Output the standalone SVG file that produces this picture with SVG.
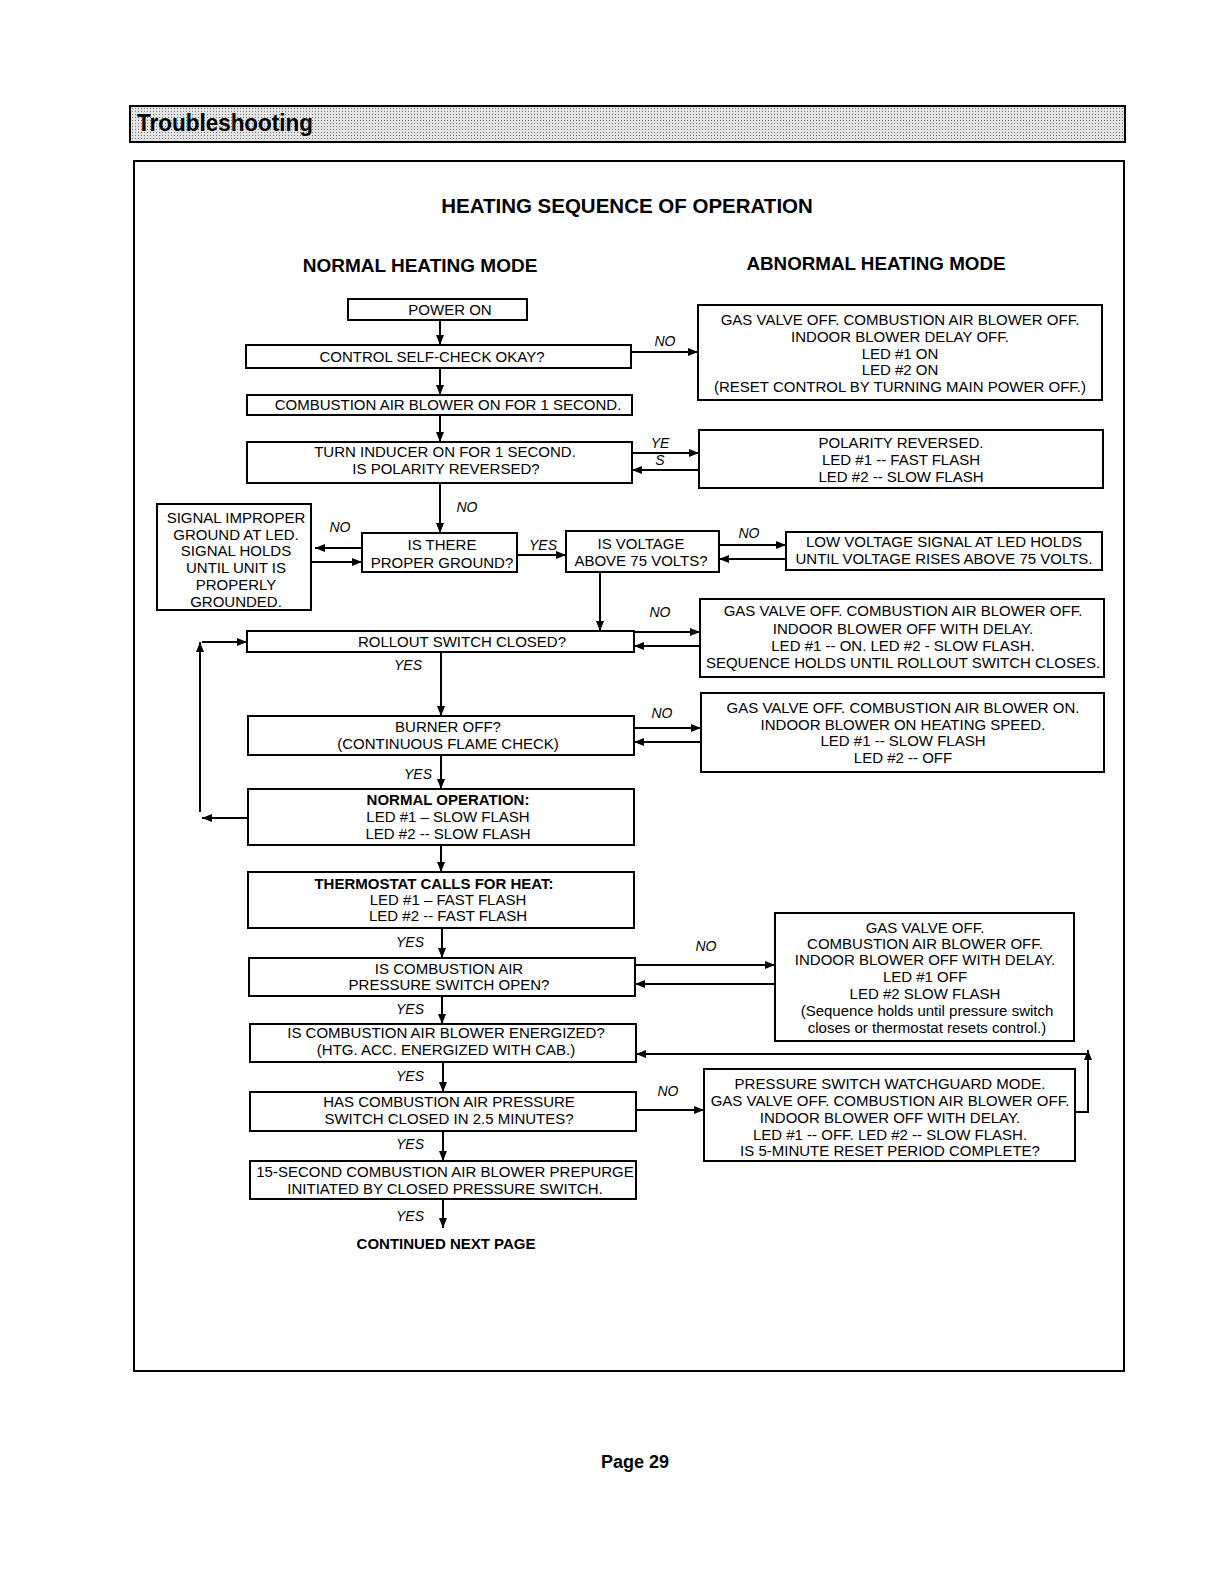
<svg xmlns="http://www.w3.org/2000/svg" width="1210" height="1572" viewBox="0 0 1210 1572">
<style>
.box{fill:#fff;stroke:#000;stroke-width:2}
.t{font-family:"Liberation Sans",Arial,sans-serif;font-size:15px;fill:#000;text-anchor:middle}
.b{font-weight:bold}
.lbl{font-family:"Liberation Sans",Arial,sans-serif;font-size:14px;font-style:italic;fill:#000;text-anchor:middle}
.ln{fill:none;stroke:#000;stroke-width:2}
.h{font-family:"Liberation Sans",Arial,sans-serif;font-weight:bold;fill:#000;text-anchor:middle}
</style>
<defs>
<marker id="ah" viewBox="0 0 10 8" refX="10" refY="4" markerWidth="11" markerHeight="8" markerUnits="userSpaceOnUse" orient="auto">
<path d="M0,0 L10,4 L0,8 z" fill="#000"/>
</marker>
<pattern id="dots" width="3" height="3" patternUnits="userSpaceOnUse">
<rect width="3" height="3" fill="#e4e4e4"/>
<rect width="1" height="1" fill="#777"/>
</pattern>
</defs>
<rect width="1210" height="1572" fill="#fff"/>

<g id="header">
<rect x="130" y="106" width="995" height="36" fill="url(#dots)" stroke="#000" stroke-width="2"/>
<text class="h" x="137" y="131" font-size="24" textLength="176" lengthAdjust="spacingAndGlyphs" style="text-anchor:start" fill="#111">Troubleshooting</text>
</g>

<rect id="frame" x="134" y="161" width="990" height="1210" fill="none" stroke="#000" stroke-width="2"/>

<g id="titles">
<text class="h" x="627" y="213" font-size="20.5">HEATING SEQUENCE OF OPERATION</text>
<text class="h" x="420" y="272" font-size="19">NORMAL HEATING MODE</text>
<text class="h" x="876" y="270" font-size="18.8">ABNORMAL HEATING MODE</text>
</g>

<g id="connectors">
<line class="ln" x1="440" y1="320" x2="440" y2="345" marker-end="url(#ah)"/>
<line class="ln" x1="440" y1="368" x2="440" y2="395" marker-end="url(#ah)"/>
<line class="ln" x1="440" y1="415" x2="440" y2="442" marker-end="url(#ah)"/>
<line class="ln" x1="631" y1="352" x2="698" y2="352" marker-end="url(#ah)"/>
<line class="ln" x1="632" y1="453" x2="699" y2="453" marker-end="url(#ah)"/>
<line class="ln" x1="699" y1="470" x2="632" y2="470" marker-end="url(#ah)"/>
<line class="ln" x1="440" y1="483" x2="440" y2="533" marker-end="url(#ah)"/>
<line class="ln" x1="362" y1="548" x2="315" y2="548" marker-end="url(#ah)"/>
<line class="ln" x1="311" y1="562" x2="362" y2="562" marker-end="url(#ah)"/>
<line class="ln" x1="517" y1="555" x2="566" y2="555" marker-end="url(#ah)"/>
<line class="ln" x1="719" y1="545" x2="786" y2="545" marker-end="url(#ah)"/>
<line class="ln" x1="786" y1="559" x2="719" y2="559" marker-end="url(#ah)"/>
<line class="ln" x1="600" y1="572" x2="600" y2="631" marker-end="url(#ah)"/>
<line class="ln" x1="634" y1="632" x2="700" y2="632" marker-end="url(#ah)"/>
<line class="ln" x1="700" y1="646" x2="634" y2="646" marker-end="url(#ah)"/>
<line class="ln" x1="441" y1="652" x2="441" y2="716" marker-end="url(#ah)"/>
<line class="ln" x1="634" y1="728" x2="701" y2="728" marker-end="url(#ah)"/>
<line class="ln" x1="701" y1="742" x2="634" y2="742" marker-end="url(#ah)"/>
<line class="ln" x1="441" y1="755" x2="441" y2="789" marker-end="url(#ah)"/>
<line class="ln" x1="248" y1="818" x2="202" y2="818" marker-end="url(#ah)"/>
<line class="ln" x1="200" y1="812" x2="200" y2="642" marker-end="url(#ah)"/>
<line class="ln" x1="202" y1="642" x2="247" y2="642" marker-end="url(#ah)"/>
<line class="ln" x1="441" y1="845" x2="441" y2="872" marker-end="url(#ah)"/>
<line class="ln" x1="442" y1="928" x2="442" y2="958" marker-end="url(#ah)"/>
<line class="ln" x1="635" y1="965" x2="775" y2="965" marker-end="url(#ah)"/>
<line class="ln" x1="775" y1="984" x2="635" y2="984" marker-end="url(#ah)"/>
<line class="ln" x1="442" y1="996" x2="442" y2="1024" marker-end="url(#ah)"/>
<line class="ln" x1="443" y1="1062" x2="443" y2="1092" marker-end="url(#ah)"/>
<line class="ln" x1="636" y1="1110" x2="704" y2="1110" marker-end="url(#ah)"/>
<polyline class="ln" points="1075,1112 1088,1112 1088,1050" marker-end="url(#ah)"/>
<line class="ln" x1="1088" y1="1054" x2="636" y2="1054" marker-end="url(#ah)"/>
<line class="ln" x1="443" y1="1131" x2="443" y2="1161" marker-end="url(#ah)"/>
<line class="ln" x1="443" y1="1199" x2="443" y2="1228" marker-end="url(#ah)"/>
</g>

<g id="labels">
<text class="lbl" x="665" y="346">NO</text>
<text class="lbl" x="660" y="448">YE</text>
<text class="lbl" x="660" y="465">S</text>
<text class="lbl" x="467" y="512">NO</text>
<text class="lbl" x="340" y="532">NO</text>
<text class="lbl" x="543" y="550">YES</text>
<text class="lbl" x="749" y="538">NO</text>
<text class="lbl" x="660" y="617">NO</text>
<text class="lbl" x="408" y="670">YES</text>
<text class="lbl" x="662" y="718">NO</text>
<text class="lbl" x="418" y="779">YES</text>
<text class="lbl" x="410" y="947">YES</text>
<text class="lbl" x="706" y="951">NO</text>
<text class="lbl" x="410" y="1014">YES</text>
<text class="lbl" x="410" y="1081">YES</text>
<text class="lbl" x="668" y="1096">NO</text>
<text class="lbl" x="410" y="1149">YES</text>
<text class="lbl" x="410" y="1221">YES</text>
</g>

<g id="n-power-on"><rect class="box" x="348" y="299" width="179" height="21"/><text class="t" x="450" y="315">POWER ON</text></g>
<g id="n-self-check"><rect class="box" x="246" y="345" width="385" height="23"/><text class="t" x="432" y="362">CONTROL SELF-CHECK OKAY?</text></g>
<g id="n-blower-1s"><rect class="box" x="247" y="395" width="385" height="20"/><text class="t" x="448" y="410">COMBUSTION AIR BLOWER ON FOR 1 SECOND.</text></g>
<g id="n-polarity-q"><rect class="box" x="247" y="442" width="385" height="41"/><text class="t" x="445" y="457">TURN INDUCER ON FOR 1 SECOND.</text><text class="t" x="446" y="474">IS POLARITY REVERSED?</text></g>
<g id="n-abn-selfcheck"><rect class="box" x="698" y="305" width="404" height="95"/>
<text class="t" x="900" y="325">GAS VALVE OFF. COMBUSTION AIR BLOWER OFF.</text>
<text class="t" x="900" y="342">INDOOR BLOWER DELAY OFF.</text>
<text class="t" x="900" y="359">LED #1 ON</text>
<text class="t" x="900" y="375">LED #2 ON</text>
<text class="t" x="900" y="392">(RESET CONTROL BY TURNING MAIN POWER OFF.)</text></g>
<g id="n-abn-polarity"><rect class="box" x="699" y="430" width="404" height="58"/>
<text class="t" x="901" y="448">POLARITY REVERSED.</text>
<text class="t" x="901" y="465">LED #1 -- FAST FLASH</text>
<text class="t" x="901" y="482">LED #2 -- SLOW FLASH</text></g>
<g id="n-abn-ground"><rect class="box" x="157" y="504" width="154" height="106"/>
<text class="t" x="236" y="523">SIGNAL IMPROPER</text>
<text class="t" x="236" y="540">GROUND AT LED.</text>
<text class="t" x="236" y="556">SIGNAL HOLDS</text>
<text class="t" x="236" y="573">UNTIL UNIT IS</text>
<text class="t" x="236" y="590">PROPERLY</text>
<text class="t" x="236" y="607">GROUNDED.</text></g>
<g id="n-ground-q"><rect class="box" x="362" y="533" width="155" height="39"/>
<text class="t" x="442" y="550">IS THERE</text>
<text class="t" x="442" y="568">PROPER GROUND?</text></g>
<g id="n-voltage-q"><rect class="box" x="566" y="531" width="153" height="41"/>
<text class="t" x="641" y="549">IS VOLTAGE</text>
<text class="t" x="641" y="566">ABOVE 75 VOLTS?</text></g>
<g id="n-abn-voltage"><rect class="box" x="786" y="532" width="316" height="38"/>
<text class="t" x="944" y="547">LOW VOLTAGE SIGNAL AT LED HOLDS</text>
<text class="t" x="944" y="564">UNTIL VOLTAGE RISES ABOVE 75 VOLTS.</text></g>
<g id="n-abn-rollout"><rect class="box" x="700" y="599" width="404" height="78"/>
<text class="t" x="903" y="616">GAS VALVE OFF. COMBUSTION AIR BLOWER OFF.</text>
<text class="t" x="903" y="634">INDOOR BLOWER OFF WITH DELAY.</text>
<text class="t" x="903" y="651">LED #1 -- ON. LED #2 - SLOW FLASH.</text>
<text class="t" x="903" y="668">SEQUENCE HOLDS UNTIL ROLLOUT SWITCH CLOSES.</text></g>
<g id="n-rollout-q"><rect class="box" x="247" y="631" width="387" height="21"/>
<text class="t" x="462" y="647">ROLLOUT SWITCH CLOSED?</text></g>
<g id="n-burner-q"><rect class="box" x="248" y="716" width="386" height="39"/>
<text class="t" x="448" y="732">BURNER OFF?</text>
<text class="t" x="448" y="749">(CONTINUOUS FLAME CHECK)</text></g>
<g id="n-abn-burner"><rect class="box" x="701" y="693" width="403" height="79"/>
<text class="t" x="903" y="713">GAS VALVE OFF. COMBUSTION AIR BLOWER ON.</text>
<text class="t" x="903" y="730">INDOOR BLOWER ON HEATING SPEED.</text>
<text class="t" x="903" y="746">LED #1 -- SLOW FLASH</text>
<text class="t" x="903" y="763">LED #2 -- OFF</text></g>
<g id="n-normal-op"><rect class="box" x="248" y="789" width="386" height="56"/>
<text class="t b" x="448" y="805">NORMAL OPERATION:</text>
<text class="t" x="448" y="822">LED #1 – SLOW FLASH</text>
<text class="t" x="448" y="839">LED #2 -- SLOW FLASH</text></g>
<g id="n-thermostat"><rect class="box" x="248" y="872" width="386" height="56"/>
<text class="t b" x="434" y="889">THERMOSTAT CALLS FOR HEAT:</text>
<text class="t" x="448" y="905">LED #1 – FAST FLASH</text>
<text class="t" x="448" y="921">LED #2 -- FAST FLASH</text></g>
<g id="n-pressure-open-q"><rect class="box" x="249" y="958" width="386" height="38"/>
<text class="t" x="449" y="974">IS COMBUSTION AIR</text>
<text class="t" x="449" y="990">PRESSURE SWITCH OPEN?</text></g>
<g id="n-abn-pressure"><rect class="box" x="775" y="913" width="299" height="128"/>
<text class="t" x="925" y="933">GAS VALVE OFF.</text>
<text class="t" x="925" y="949">COMBUSTION AIR BLOWER OFF.</text>
<text class="t" x="925" y="965">INDOOR BLOWER OFF WITH DELAY.</text>
<text class="t" x="925" y="982">LED #1 OFF</text>
<text class="t" x="925" y="999">LED #2 SLOW FLASH</text>
<text class="t" x="927" y="1016" font-size="14">(Sequence holds until pressure switch</text>
<text class="t" x="927" y="1033" font-size="14">closes or thermostat resets control.)</text></g>
<g id="n-blower-energized-q"><rect class="box" x="250" y="1024" width="386" height="38"/>
<text class="t" x="446" y="1038">IS COMBUSTION AIR BLOWER ENERGIZED?</text>
<text class="t" x="446" y="1055">(HTG. ACC. ENERGIZED WITH CAB.)</text></g>
<g id="n-pressure-closed-q"><rect class="box" x="250" y="1092" width="386" height="39"/>
<text class="t" x="449" y="1107">HAS COMBUSTION AIR PRESSURE</text>
<text class="t" x="449" y="1124">SWITCH CLOSED IN 2.5 MINUTES?</text></g>
<g id="n-watchguard"><rect class="box" x="704" y="1069" width="371" height="92"/>
<text class="t" x="890" y="1089">PRESSURE SWITCH WATCHGUARD MODE.</text>
<text class="t" x="890" y="1106">GAS VALVE OFF. COMBUSTION AIR BLOWER OFF.</text>
<text class="t" x="890" y="1123">INDOOR BLOWER OFF WITH DELAY.</text>
<text class="t" x="890" y="1140">LED #1 -- OFF. LED #2 -- SLOW FLASH.</text>
<text class="t" x="890" y="1156">IS 5-MINUTE RESET PERIOD COMPLETE?</text></g>
<g id="n-prepurge"><rect class="box" x="250" y="1161" width="386" height="38"/>
<text class="t" x="445" y="1177">15-SECOND COMBUSTION AIR BLOWER PREPURGE</text>
<text class="t" x="445" y="1194">INITIATED BY CLOSED PRESSURE SWITCH.</text></g>
<g id="n-continued"><text class="t b" x="446" y="1249" font-size="15.3">CONTINUED NEXT PAGE</text></g>

<text class="h" x="635" y="1468" font-size="18">Page 29</text>
</svg>
